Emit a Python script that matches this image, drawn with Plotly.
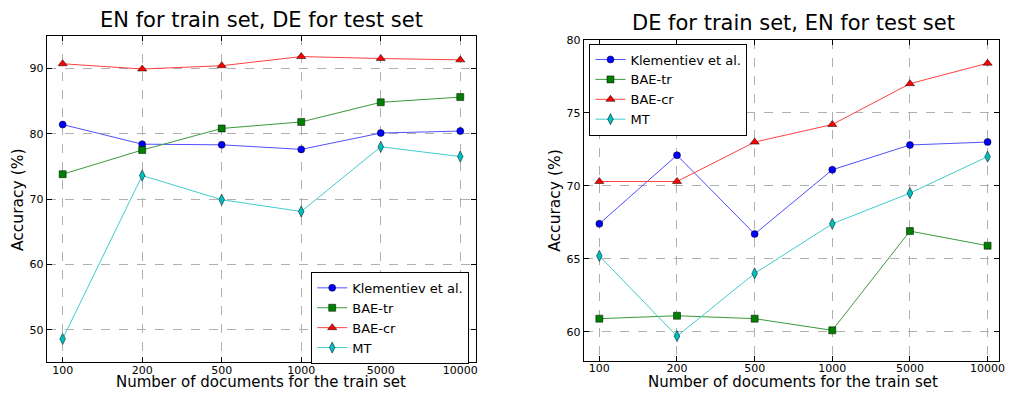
import plotly.graph_objects as go

categories = ["100", "200", "500", "1000", "5000", "10000"]
series_names = ["Klementiev et al.", "BAE-tr", "BAE-cr", "MT"]

left_klementiev = [81.4, 78.4, 78.3, 77.6, 80.1, 80.4]
left_bae_tr = [73.8, 77.5, 80.8, 81.8, 84.8, 85.6]
left_bae_cr = [90.7, 89.9, 90.4, 91.8, 91.5, 91.3]
left_mt = [48.6, 73.6, 69.9, 68.1, 78.0, 76.5]

right_klementiev = [67.4, 72.1, 66.7, 71.1, 72.8, 73.0]
right_bae_tr = [60.9, 61.1, 60.9, 60.1, 66.9, 65.9]
right_bae_cr = [70.3, 70.3, 73.0, 74.2, 77.0, 78.4]
right_mt = [65.2, 59.7, 64.0, 67.4, 69.5, 72.0]

left_title = "EN for train set, DE for test set"
right_title = "DE for train set, EN for test set"
x_title = "Number of documents for the train set"
y_title = "Accuracy (%)"

colors = ["#0000ff", "#008000", "#ff0000", "#00bfbf"]
line_colors = ["#5050ff", "#3a9a3a", "#ff4040", "#40cccc"]
symbols = ["circle", "square", "triangle-up", "diamond-tall"]
sizes = [7, 7, 8, 8]

FONT = "DejaVu Sans"
W, H, OFF = 997, 384, 8  # page body has an 8px margin


def px(x):
    return (x - OFF) / W


def py(y):
    return 1 - (y - OFF) / H


fig = go.Figure()

left_data = [left_klementiev, left_bae_tr, left_bae_cr, left_mt]
right_data = [right_klementiev, right_bae_tr, right_bae_cr, right_mt]

for i, (name, ys) in enumerate(zip(series_names, left_data)):
    fig.add_trace(go.Scatter(
        x=categories, y=ys, name=name, mode="lines+markers",
        line=dict(color=line_colors[i], width=1),
        marker=dict(symbol=symbols[i], size=sizes[i], color=colors[i],
                    line=dict(color="#000000", width=0.5)),
        xaxis="x", yaxis="y", legend="legend"))
for i, (name, ys) in enumerate(zip(series_names, right_data)):
    fig.add_trace(go.Scatter(
        x=categories, y=ys, name=name, mode="lines+markers",
        line=dict(color=line_colors[i], width=1),
        marker=dict(symbol=symbols[i], size=sizes[i], color=colors[i],
                    line=dict(color="#000000", width=0.5)),
        xaxis="x2", yaxis="y2", legend="legend2"))

axis_common = dict(
    showline=True, linecolor="#000000", linewidth=1.2, mirror="allticks",
    ticks="inside", ticklen=5, tickcolor="#000000",
    showgrid=True, gridcolor="#b0b0b0", griddash="dash", gridwidth=1,
    zeroline=False,
    tickfont=dict(family=FONT, size=11, color="#000000"),
)

legend_common = dict(bgcolor="white", bordercolor="#000000", borderwidth=1,
                     font=dict(family=FONT, size=13), tracegroupgap=0, itemwidth=30)

fig.update_layout(
    width=W, height=H,
    margin=dict(l=0, r=0, t=0, b=0),
    paper_bgcolor="white", plot_bgcolor="white",
    font=dict(family=FONT, color="#000000"),
    xaxis=dict(domain=[px(47), px(479)], type="category", range=[-0.2, 5.2],
               anchor="y", ticklabelstandoff=-3, **axis_common),
    yaxis=dict(domain=[py(362), py(30)], range=[45, 95], tickvals=[50, 60, 70, 80, 90],
               anchor="x", **axis_common),
    xaxis2=dict(domain=[px(587.3), 1.0], type="category", range=[-0.2, 5.147],
                anchor="y2", ticklabelstandoff=-3, **axis_common),
    yaxis2=dict(domain=[py(360.5), py(34.3)], range=[58, 80], tickvals=[60, 65, 70, 75, 80],
                anchor="x2", **axis_common),
    legend=dict(x=px(472), y=py(270), xanchor="right", yanchor="top", **legend_common),
    legend2=dict(x=px(593), y=py(38), xanchor="left", yanchor="top", **legend_common),
    annotations=[
        dict(text=left_title, x=px(263), y=py(14), xref="paper", yref="paper",
             showarrow=False, font=dict(family=FONT, size=21), xanchor="center", yanchor="middle"),
        dict(text=right_title, x=px(798), y=py(17), xref="paper", yref="paper",
             showarrow=False, font=dict(family=FONT, size=21), xanchor="center", yanchor="middle"),
        dict(text=x_title, x=px(263), y=0, xref="paper", yref="paper", borderpad=0,
             showarrow=False, font=dict(family=FONT, size=15), xanchor="center", yanchor="bottom"),
        dict(text=x_title, x=px(798), y=0, xref="paper", yref="paper", borderpad=0,
             showarrow=False, font=dict(family=FONT, size=15), xanchor="center", yanchor="bottom"),
        dict(text=y_title, x=px(18), y=py(196), xref="paper", yref="paper", textangle=-90,
             showarrow=False, font=dict(family=FONT, size=15.5), xanchor="center", yanchor="middle"),
        dict(text=y_title, x=px(558), y=py(197), xref="paper", yref="paper", textangle=-90,
             showarrow=False, font=dict(family=FONT, size=15.5), xanchor="center", yanchor="middle"),
    ],
)

fig.write_html("out.html")
